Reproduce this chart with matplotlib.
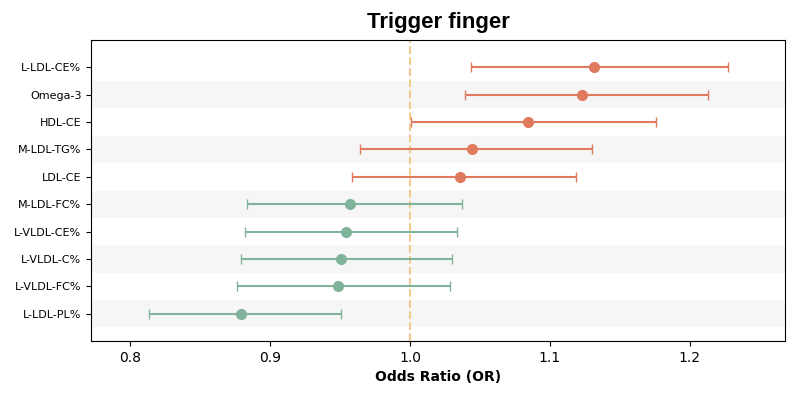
import matplotlib
matplotlib.use("Agg")
import matplotlib.pyplot as plt

labels = ["L-LDL-CE%", "Omega-3", "HDL-CE", "M-LDL-TG%", "LDL-CE",
          "M-LDL-FC%", "L-VLDL-CE%", "L-VLDL-C%", "L-VLDL-FC%", "L-LDL-PL%"]
odds = [1.1317, 1.1229, 1.0847, 1.0442, 1.0358, 0.9568, 0.9542, 0.9508, 0.9487, 0.8790]
ci_low = [1.0439, 1.0396, 1.0007, 0.9644, 0.9587, 0.8836, 0.8817, 0.8790, 0.8762, 0.8131]
ci_high = [1.2272, 1.2128, 1.1756, 1.1298, 1.1185, 1.0374, 1.0339, 1.0301, 1.0289, 0.9506]
xticks = [0.8, 0.9, 1.0, 1.1, 1.2]

red = "#E07A5F"
green = "#81B29A"
ref_color = "#F2CC8F"

fig = plt.figure(figsize=(8, 4), dpi=100)
ax = fig.add_axes([0.114, 0.1475, 0.867, 0.7525])

n = len(labels)
for i in range(n):
    if i % 2 == 1:
        ax.axhspan(i - 0.5, i + 0.5, color="#f6f6f6", zorder=0, lw=0)

for i in range(n):
    c = red if odds[i] > 1 else green
    ax.errorbar(odds[i], i, xerr=[[odds[i] - ci_low[i]], [ci_high[i] - odds[i]]],
                fmt="o", color=c, ecolor=c, elinewidth=1.5, capsize=3.5,
                markersize=7, capthick=1, zorder=3)

ax.axvline(1.0, color=ref_color, linestyle="--", lw=1.5, zorder=2)

ax.set_yticks(range(n))
ax.set_yticklabels(labels, fontsize=8)
ax.set_ylim(n, -1)
ax.set_xlim(0.772, 1.268)
ax.set_xticks(xticks)
ax.set_xticklabels([f"{t:.1f}" for t in xticks], fontsize=10)
ax.set_xlabel("Odds Ratio (OR)", fontsize=10, fontweight="bold")
ax.set_title("Trigger finger", fontsize=16, fontweight="bold",
             family="Liberation Sans", pad=9)

fig.savefig("out.png", dpi=100)
